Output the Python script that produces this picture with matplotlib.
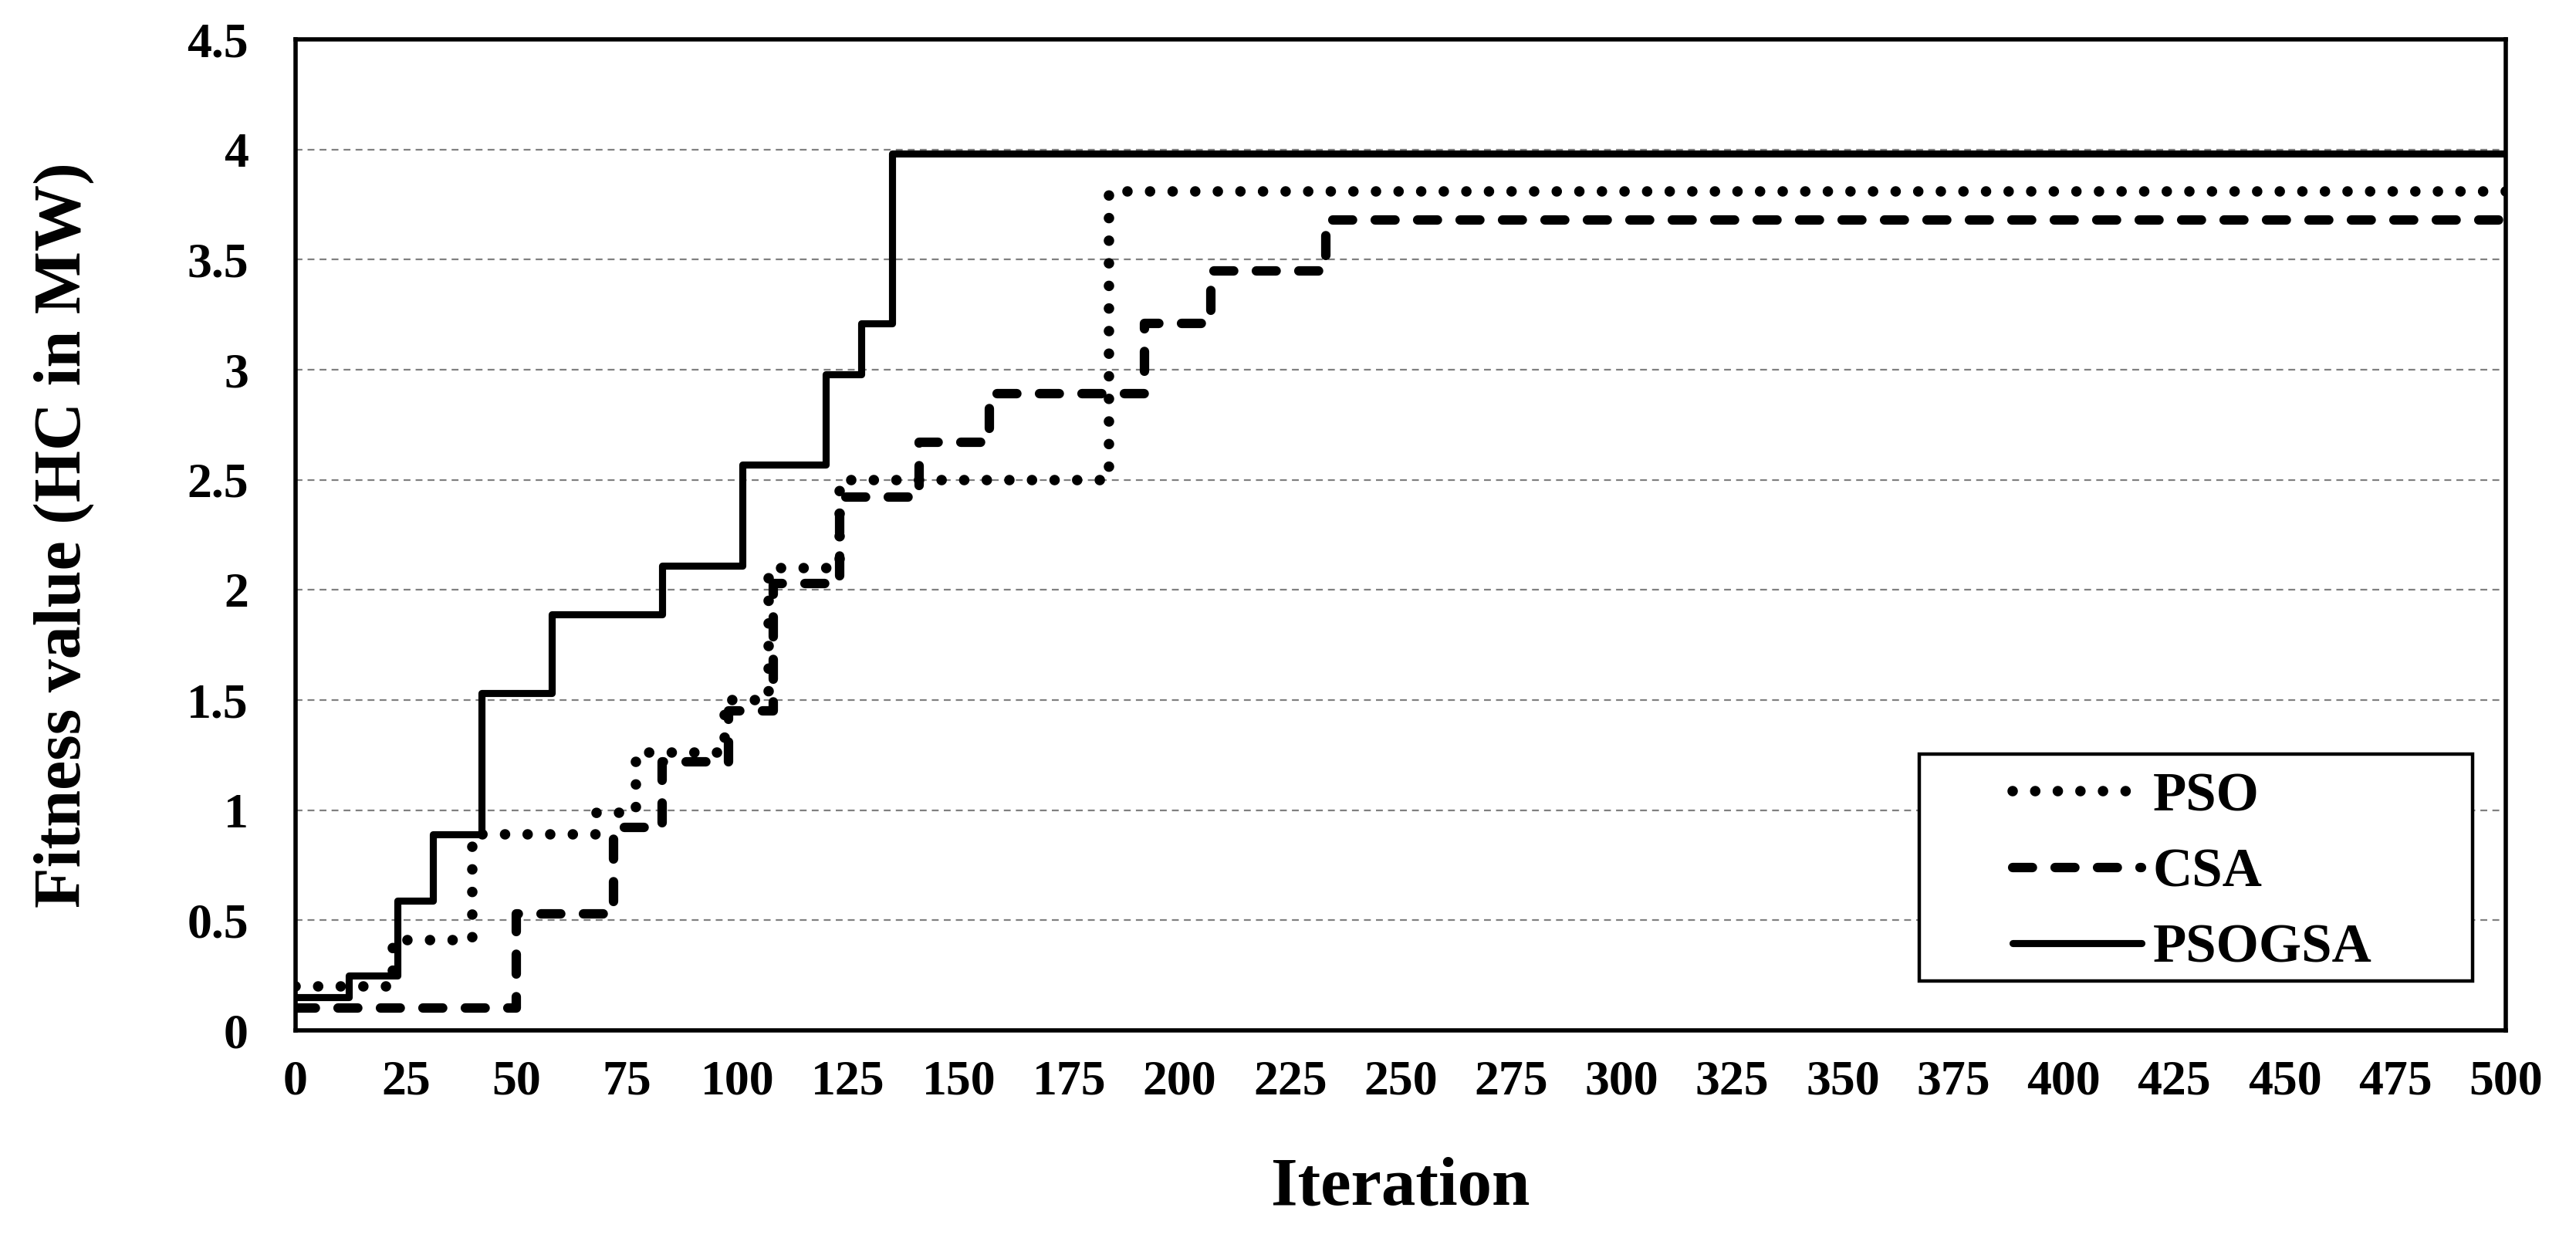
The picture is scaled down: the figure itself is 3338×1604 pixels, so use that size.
import matplotlib
matplotlib.use("Agg")
import matplotlib.pyplot as plt
from matplotlib.ticker import FuncFormatter
from matplotlib.patches import Rectangle

plt.rcParams['font.family'] = ['Liberation Serif', 'DejaVu Serif']
plt.rcParams['font.weight'] = 'bold'

# Step change points (iteration) and the fitness level held from that iteration on
pso_iter = [0, 22, 40, 68, 77, 97, 107, 123, 184, 500]
pso_val = [0.20, 0.41, 0.89, 0.99, 1.26, 1.50, 2.10, 2.50, 3.81, 3.81]

csa_iter = [0, 50, 72, 83, 98, 108, 123, 141, 157, 192, 207, 233, 500]
csa_val = [0.10, 0.53, 0.92, 1.22, 1.45, 2.03, 2.42, 2.67, 2.89, 3.21, 3.45, 3.68, 3.68]

psogsa_iter = [0, 12, 23, 31, 42, 58, 83, 101, 120, 128, 135, 500]
psogsa_val = [0.15, 0.25, 0.59, 0.89, 1.53, 1.89, 2.11, 2.57, 2.98, 3.21, 3.98, 3.98]

x_ticks = list(range(0, 501, 25))
y_ticks = [0, 0.5, 1, 1.5, 2, 2.5, 3, 3.5, 4, 4.5]

W, H = 3338, 1604
dpi = 200
fig = plt.figure(figsize=(W / dpi, H / dpi), dpi=dpi)
ax = fig.add_axes([383 / W, 1 - 1335 / H, (3247 - 383) / W, (1335 - 51) / H])

ax.plot(pso_iter, pso_val, drawstyle='steps-post', color='black', lw=4.9,
        linestyle=(0, (0.001, 2.15)), dash_capstyle='round', label='PSO')
ax.plot(csa_iter, csa_val, drawstyle='steps-post', color='black', lw=4.4,
        linestyle=(0, (2.1, 2.4)), dash_capstyle='round', label='CSA')
ax.plot(psogsa_iter, psogsa_val, drawstyle='steps-post', color='black', lw=3.3,
        linestyle='-', solid_capstyle='round', label='PSOGSA')

ax.set_xlim(0, 500)
ax.set_ylim(0, 4.5)
ax.set_xticks(x_ticks)
ax.set_yticks(y_ticks)
ax.yaxis.set_major_formatter(FuncFormatter(lambda v, p: f"{v:g}"))
ax.tick_params(axis='both', length=0, labelsize=23)
ax.tick_params(axis='x', pad=14)
ax.tick_params(axis='y', pad=22)
for lab in ax.get_xticklabels() + ax.get_yticklabels():
    lab.set_fontweight('bold')

ax.yaxis.grid(True, color='#808080', linestyle=(0, (4, 3)), lw=0.8)
ax.set_axisbelow(True)
for s in ax.spines.values():
    s.set_linewidth(2.0)
    s.set_color('black')

ax.set_xlabel('Iteration', fontsize=32, fontweight='bold', labelpad=24)
ax.set_ylabel('Fitness value (HC in MW)', fontsize=31, fontweight='bold', labelpad=43)

# legend frame drawn as a rectangle in axes coordinates
frame = Rectangle((0.7346, 0.0498), 0.985 - 0.7346, 0.2786 - 0.0498,
                  transform=ax.transAxes, facecolor='white', edgecolor='black',
                  lw=1.6, zorder=4)
ax.add_patch(frame)

leg = ax.legend(loc='center left', bbox_to_anchor=(0.777, 0.159), fontsize=25.5,
                frameon=False, handlelength=2.36, borderpad=0, labelspacing=0.47,
                handletextpad=0.2, borderaxespad=0)
leg.set_zorder(5)
for t in leg.get_texts():
    t.set_fontweight('bold')

fig.savefig('out.png', dpi=dpi)
